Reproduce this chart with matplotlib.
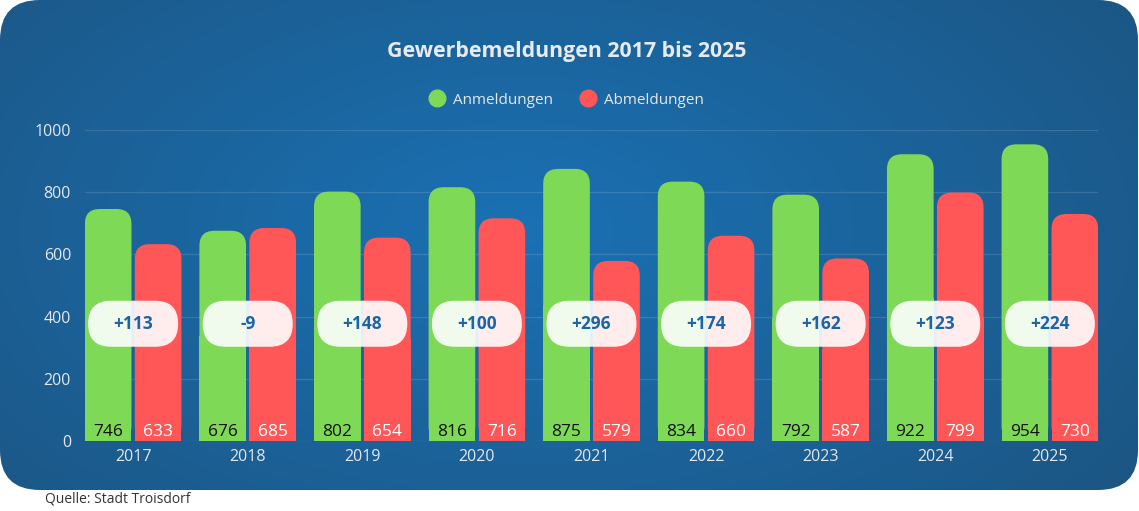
import numpy as np
import matplotlib
matplotlib.use("Agg")
import matplotlib.pyplot as plt
from matplotlib.patches import FancyBboxPatch
from matplotlib.lines import Line2D

years = ["2017", "2018", "2019", "2020", "2021", "2022", "2023", "2024", "2025"]
anmeldungen = [746, 676, 802, 816, 875, 834, 792, 922, 954]
abmeldungen = [633, 685, 654, 716, 579, 660, 587, 799, 730]
saldo_labels = ["+113", "-9", "+148", "+100", "+296", "+174", "+162", "+123", "+224"]

GREEN = "#7ed957"
RED = "#ff5757"
TXT = "#e4e8ee"
plt.rcParams['font.family'] = ['Open Sans', 'DejaVu Sans']

W, H = 1139, 511
fig = plt.figure(figsize=(W / 100, H / 100), dpi=100)
fig.patch.set_facecolor("white")

# background card with soft gradient
bg = fig.add_axes([0, 0, 1, 1])
bg.set_xlim(0, W)
bg.set_ylim(H, 0)
bg.axis("off")
yy, xx = np.mgrid[0:H, 0:W]
d = np.sqrt(((xx - 520) / 750.0) ** 2 + ((yy - 230) / 420.0) ** 2)
t = np.clip(d, 0, 1)[..., None]
light = np.array([0x1a, 0x71, 0xb4]) / 255
dark = np.array([0x1c, 0x56, 0x84]) / 255
img = light * (1 - t) + dark * t
im = bg.imshow(img, extent=(0, W, H, 0), aspect="auto", zorder=0)
card = FancyBboxPatch((0, 0), 1138, 490, boxstyle="round,pad=0,rounding_size=40",
                      transform=bg.transData, facecolor="none", edgecolor="none")
bg.add_patch(card)
im.set_clip_path(card)

# main axes
ax = fig.add_axes([85 / W, 70 / H, (1098 - 85) / W, (441 - 130) / H])
ax.patch.set_alpha(0)
ax.set_xlim(-0.42, 8.42)
ax.set_ylim(0, 1000)
for s in ax.spines.values():
    s.set_visible(False)
ax.set_yticks([0, 200, 400, 600, 800, 1000])
ax.yaxis.grid(True, color="white", alpha=0.13, lw=0.9)
ax.set_axisbelow(True)
ax.tick_params(length=0, colors=TXT, labelsize=11.5)
ax.tick_params(axis="y", pad=10)
ax.tick_params(axis="x", pad=6)
x = np.arange(len(years))
ax.set_xticks(x)
ax.set_xticklabels(years)

p0 = ax.transData.transform((0, 0))
p1 = ax.transData.transform((1, 1))
sx, sy = p1[0] - p0[0], p1[1] - p0[1]
aspect = sx / sy

bw = 0.407
off = 0.218
b1 = ax.bar(x - off, anmeldungen, width=bw, color=GREEN)
b2 = ax.bar(x + off, abmeldungen, width=bw, color=RED)


def round_tops(bars, color, r_px=15):
    for b in bars:
        b.set_visible(False)
        bx, by, bwid, bh = b.get_x(), b.get_y(), b.get_width(), b.get_height()
        ax.add_patch(FancyBboxPatch((bx, by), bwid, bh,
                                    boxstyle="round,pad=0,rounding_size=%f" % (r_px / sx),
                                    mutation_aspect=aspect, facecolor=color,
                                    edgecolor="none", zorder=2))
        ax.add_patch(plt.Rectangle((bx, by), bwid, bh / 2, facecolor=color,
                                   edgecolor="none", zorder=2))


round_tops(b1, GREEN)
round_tops(b2, RED)

for i in range(len(years)):
    ax.text(x[i] - off, 28, str(anmeldungen[i]), ha="center", va="center",
            fontsize=12.5, color="#111111", zorder=4)
    ax.text(x[i] + off, 28, str(abmeldungen[i]), ha="center", va="center",
            fontsize=12.5, color="white", zorder=4)
    pw, ph = 90 / sx, 46 / sy
    ax.add_patch(FancyBboxPatch((x[i] - pw / 2, 377 - ph / 2), pw, ph,
                                boxstyle="round,pad=0,rounding_size=%f" % (22.9 / sx),
                                mutation_aspect=aspect, facecolor="white",
                                alpha=0.9, edgecolor="none", zorder=3))
    ax.text(x[i], 377, saldo_labels[i], ha="center", va="center", fontsize=12.5,
            fontweight="bold", color="#1b64a8", zorder=4)

fig.text(567 / W, 1 - 52 / H, "Gewerbemeldungen 2017 bis 2025", ha="center",
         va="center", fontsize=15.4, fontweight="bold", color="#e8eaee")

handles = [Line2D([], [], marker="o", ls="none", color=GREEN, markersize=12),
           Line2D([], [], marker="o", ls="none", color=RED, markersize=12)]
fig.legend(handles, ["Anmeldungen", "Abmeldungen"], loc="center",
           bbox_to_anchor=(563 / W, 1 - 100 / H), ncol=2, frameon=False,
           fontsize=11, labelcolor=TXT, handletextpad=0.05, columnspacing=1.3)

fig.text(45 / W, 1 - 499 / H, "Quelle: Stadt Troisdorf", ha="left", va="center",
         fontsize=10, color="#333333")

fig.savefig("out.png", dpi=100)
